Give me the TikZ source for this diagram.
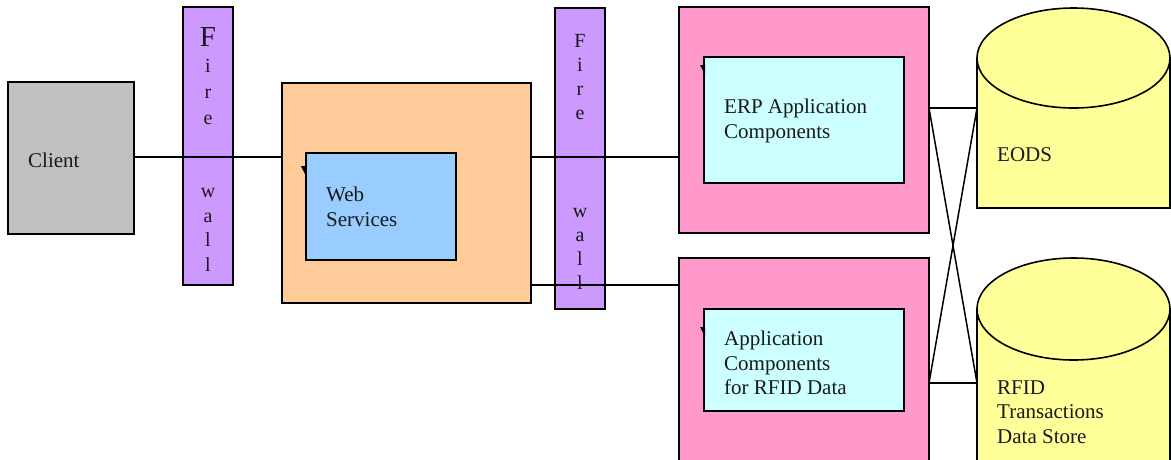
\documentclass[tikz,border=0pt]{standalone}
\usepackage{fontspec}
\setmainfont{Liberation Serif}
\definecolor{clientgray}{HTML}{C0C0C0}
\definecolor{fwpurple}{HTML}{CC99FF}
\definecolor{webor}{HTML}{FFCC99}
\definecolor{webblue}{HTML}{99CCFF}
\definecolor{apppink}{HTML}{FF99CC}
\definecolor{appcyan}{HTML}{CCFFFF}
\definecolor{dbyellow}{HTML}{FFFF99}
\begin{document}
\begin{tikzpicture}[x=1pt,y=-1pt,
  box/.style={draw=black, line width=1.6pt, inner sep=0pt, outer sep=0pt, anchor=north west},
  lbl/.style={font=\fontsize{21}{24.5}\selectfont, align=left, anchor=west, inner sep=0pt, text=black!90},
  fwtext/.style={font=\fontsize{20}{26}\selectfont, align=center, inner sep=0pt, text=black!90},
  conn/.style={draw=black, line width=1.5pt},
  tickmark/.style={fill=black}]
\clip (0,0) rectangle (1171,459);
\fill[white] (0,0) rectangle (1171,459);

% client
\node[box, fill=clientgray, minimum width=126pt, minimum height=152pt] (client) at (8,82) {};
\node[lbl] (clientlbl) at (28,160) {Client};

% firewalls
\node[box, fill=fwpurple, minimum width=50pt, minimum height=278pt] (fw1) at (183,7) {};
\node[box, fill=fwpurple, minimum width=50pt, minimum height=301pt] (fw2) at (555,8) {};
\node[fwtext] (fw1a) at (208,76) {{\fontsize{29}{29}\selectfont F}\\i\\r\\e};
\node[fwtext, font=\fontsize{20}{24.5}\selectfont] (fw1b) at (208,230) {w\\a\\l\\l};
\node[fwtext, font=\fontsize{20}{24}\selectfont] (fw2a) at (580,77) {F\\i\\r\\e};
\node[fwtext, font=\fontsize{20}{24}\selectfont] (fw2b) at (580,249) {w\\a\\l\\l};

% web services
\node[box, fill=webor, minimum width=249pt, minimum height=220pt] (web) at (282,83) {};
\node[box, fill=webblue, minimum width=150pt, minimum height=107pt] (ws) at (306,153) {};
\node[lbl] (wslbl) at (326,207) {Web\\Services};
\fill[tickmark] (ws.north west) ++(-5,13) -- ++(6,0) -- ++(-1,10) -- cycle;

% application servers
\node[box, fill=apppink, minimum width=250pt, minimum height=226pt] (pink1) at (679,7) {};
\node[box, fill=appcyan, minimum width=200pt, minimum height=126pt] (erp) at (704,57) {};
\node[lbl] (erplbl) at (724,121) {ERP Application\\Components};
\fill[tickmark] (erp.north west) ++(-4,8) -- ++(5,0) -- ++(0,10) -- cycle;

\node[box, fill=apppink, minimum width=250pt, minimum height=230pt] (pink2) at (679,258) {};
\node[box, fill=appcyan, minimum width=200pt, minimum height=102pt] (rfapp) at (704,309) {};
\node[lbl] (rfapplbl) at (724,363) {Application\\Components\\for RFID Data};
\fill[tickmark] (rfapp.north west) ++(-4,18) -- ++(5,0) -- ++(0,10) -- cycle;

% data stores
\node[box, fill=dbyellow, minimum width=193pt, minimum height=150pt] (eods) at (977,58) {};
\draw[fill=dbyellow, line width=1.6pt] (eods.north) ellipse [x radius=96.5pt, y radius=50pt];
\node[lbl] (eodslbl) at (997,155) {EODS};

\node[box, fill=dbyellow, minimum width=193pt, minimum height=170pt] (rfid) at (977,309) {};
\draw[fill=dbyellow, line width=1.6pt] (rfid.north) ellipse [x radius=96.5pt, y radius=51pt];
\node[lbl] (rfidlbl) at (997,412) {RFID\\Transactions\\Data Store};

% connectors
\coordinate (ya) at (0,157);
\coordinate (yb) at (0,285);
\coordinate (yc) at (0,108);
\coordinate (yd) at (0,383);
\draw[conn] (client.east |- ya) -- (web.west |- ya);
\draw[conn] (web.east |- ya) -- (pink1.west |- ya);
\draw[conn] (web.east |- yb) -- (pink2.west |- yb);
\draw[conn] (pink1.east |- yc) -- (eods.west |- yc);
\draw[conn] (pink1.east |- yc) -- (rfid.west |- yd);
\draw[conn] (pink2.east |- yd) -- (rfid.west |- yd);
\draw[conn] (pink2.east |- yd) -- (eods.west |- yc);
\end{tikzpicture}
\end{document}
